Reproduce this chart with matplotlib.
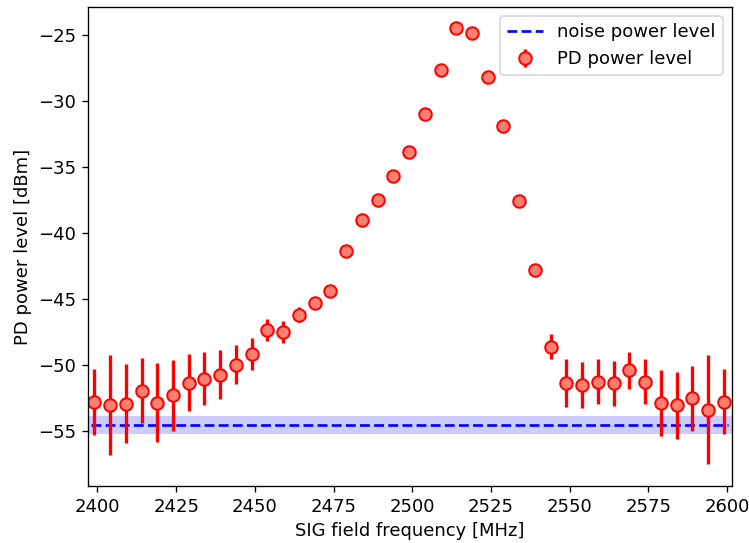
import numpy as np
import matplotlib
matplotlib.use("Agg")
import matplotlib.pyplot as plt

plt.rcParams["font.size"] = 10.8

# SIG field frequency sweep [MHz]
freq = np.arange(2399, 2600, 5)

# measured PD power [dBm] and its spread
power = [-52.86, -53.08, -52.95, -51.99, -52.88, -52.32, -51.36, -51.06, -50.76, -50.00,
         -49.17, -47.37, -47.53, -46.21, -45.33, -44.45, -41.40, -39.07, -37.55, -35.71,
         -33.86, -31.04, -27.70, -24.47, -24.87, -28.20, -31.89, -37.58, -42.80, -48.64,
         -51.41, -51.54, -51.29, -51.41, -50.43, -51.29, -52.90, -53.10, -52.55, -53.41,
         -52.80]
power_err = [2.5, 3.8, 3.0, 2.46, 3.0, 2.7, 2.15, 2.0, 1.85, 1.5,
             1.22, 0.83, 0.87, 0.6, 0.4, 0.3, 0.2, 0.2, 0.2, 0.2,
             0.2, 0.2, 0.2, 0.2, 0.2, 0.2, 0.2, 0.2, 0.2, 0.95,
             1.82, 1.73, 1.7, 1.72, 1.42, 1.72, 2.48, 2.57, 2.48, 4.1,
             2.44]

noise = -54.55
noise_err = 0.68

fig = plt.figure(figsize=(749 / 120, 543 / 120), dpi=120)
ax = fig.add_axes([0.1175, 0.105, 0.9773 - 0.1175, 0.9871 - 0.105])

ax.axhspan(noise - noise_err, noise + noise_err, color="blue", alpha=0.2, lw=0)
ax.hlines(noise, 2398, 2600.3, colors="blue", linestyles="--", lw=1.6,
          label="noise power level")
ax.errorbar(freq, power, yerr=power_err, fmt="o", color="red", ecolor="red",
            elinewidth=2, markersize=7.5, markerfacecolor="salmon",
            markeredgecolor="red", markeredgewidth=1.2, label="PD power level")

ax.set_xlim(2397, 2601.6)
ax.set_ylim(-59.2, -22.9)
ax.set_xlabel("SIG field frequency [MHz]")
ax.set_ylabel("PD power level [dBm]")
ax.legend(loc="upper right")

fig.savefig("out.png", dpi=120)
